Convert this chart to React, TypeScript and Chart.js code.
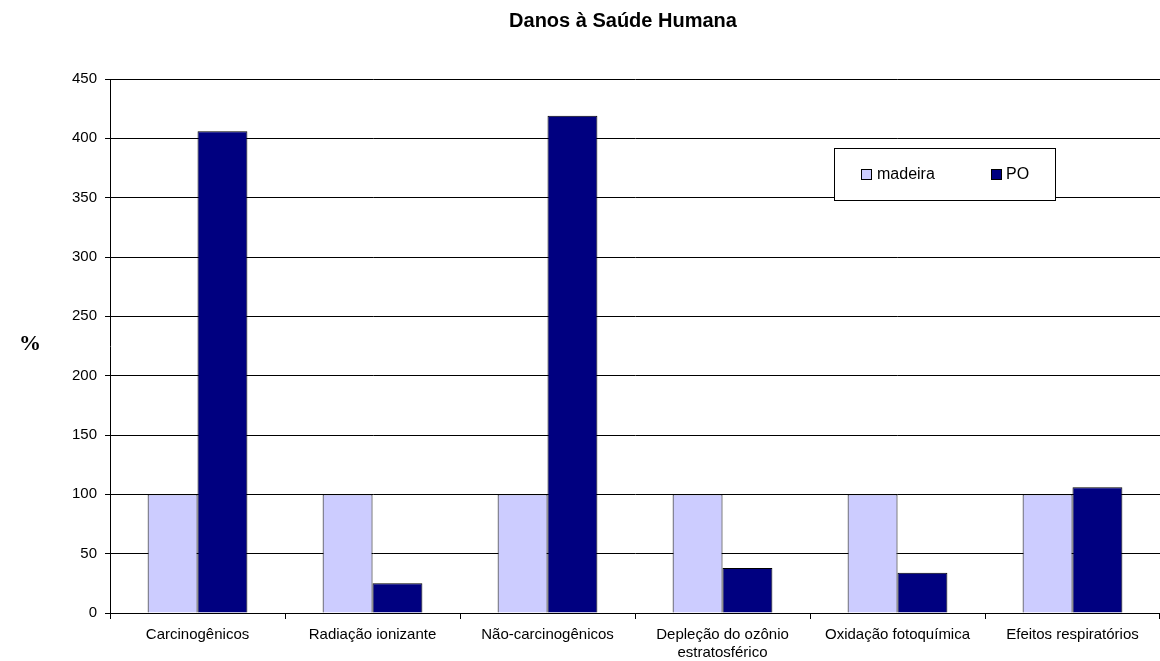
import React, { useEffect, useRef } from 'react';
import { Chart, registerables } from 'chart.js';

Chart.register(...registerables);

const chartTitle = 'Danos à Saúde Humana';
const yAxisLabel = '%';
const categories: (string | string[])[] = [
  'Carcinogênicos',
  'Radiação ionizante',
  'Não-carcinogênicos',
  ['Depleção do ozônio', 'estratosférico'],
  'Oxidação fotoquímica',
  'Efeitos respiratórios',
];
const seriesNames = ['madeira', 'PO'];
const madeiraValues = [100, 100, 100, 100, 100, 100];
const poValues = [406, 25, 419, 38, 34, 106];
const yMin = 0;
const yMax = 450;
const yStep = 50;

const FONT = "'Liberation Sans', Arial, sans-serif";

const overlayPlugin = {
  id: 'overlay',
  afterDraw(chart: any) {
    const ctx = chart.ctx as CanvasRenderingContext2D;
    ctx.save();
    // title
    ctx.fillStyle = '#000';
    ctx.font = `bold 20px ${FONT}`;
    ctx.textAlign = 'center';
    ctx.textBaseline = 'alphabetic';
    ctx.fillText(chartTitle, 623, 27);
    // y axis label
    ctx.font = `bold 22px 'Liberation Serif', 'Times New Roman', serif`;
    ctx.fillText(yAxisLabel, 30, 350);
    // legend box
    const bx = 834.5, by = 148.5, bw = 221, bh = 52;
    ctx.fillStyle = '#fff';
    ctx.fillRect(bx, by, bw, bh);
    ctx.strokeStyle = '#000';
    ctx.lineWidth = 1;
    ctx.strokeRect(bx, by, bw, bh);
    const items = [
      { x: 861.5, tx: 877 },
      { x: 991.5, tx: 1006 },
    ];
    chart.data.datasets.forEach((ds: any, i: number) => {
      const it = items[i];
      ctx.fillStyle = ds.backgroundColor;
      ctx.fillRect(it.x, 169.5, 10, 10);
      ctx.strokeStyle = '#000';
      ctx.strokeRect(it.x, 169.5, 10, 10);
      ctx.fillStyle = '#000';
      ctx.font = `16px ${FONT}`;
      ctx.textAlign = 'left';
      ctx.textBaseline = 'middle';
      ctx.fillText(ds.label, it.tx, 175);
    });
    ctx.restore();
  },
};

export default function App() {
  const ref = useRef<HTMLCanvasElement | null>(null);
  useEffect(() => {
    document.body.style.margin = '0';
    const canvas = ref.current;
    if (!canvas) return;
    const chart = new Chart(canvas, {
      type: 'bar',
      data: {
        labels: categories,
        datasets: [
          {
            label: seriesNames[0],
            data: madeiraValues,
            backgroundColor: '#CCCCFF',
            borderColor: '#000000',
            borderWidth: 1,
            categoryPercentage: 0.57,
            barPercentage: 1.0,
          },
          {
            label: seriesNames[1],
            data: poValues,
            backgroundColor: '#000080',
            borderColor: '#000000',
            borderWidth: 1,
            categoryPercentage: 0.57,
            barPercentage: 1.0,
          },
        ],
      },
      options: {
        animation: false,
        responsive: false,
        maintainAspectRatio: false,
        layout: { padding: { left: 64, right: 0, top: 79, bottom: -8 } },
        plugins: {
          legend: { display: false },
          title: { display: false },
          tooltip: { enabled: false },
        },
        scales: {
          x: {
            offset: true,
            grid: {
              offset: true,
              drawOnChartArea: false,
              drawTicks: true,
              tickLength: 6,
              color: '#000',
            },
            border: { color: '#000', width: 1 },
            ticks: {
              color: '#000',
              font: { family: FONT, size: 15 },
              padding: 7,
              maxRotation: 0,
              autoSkip: false,
            },
          },
          y: {
            min: yMin,
            max: yMax,
            grid: {
              color: '#000',
              drawTicks: true,
              tickLength: 5,
            },
            border: { color: '#000', width: 1 },
            ticks: {
              stepSize: yStep,
              color: '#000',
              font: { family: FONT, size: 15 },
              padding: 8,
            },
          },
        },
      },
      plugins: [overlayPlugin],
    });
    return () => chart.destroy();
  }, []);
  return (
    <div style={{ width: 1160, height: 661, background: '#fff' }}>
      <canvas ref={ref} width={1160} height={661} style={{ display: 'block' }} />
    </div>
  );
}
